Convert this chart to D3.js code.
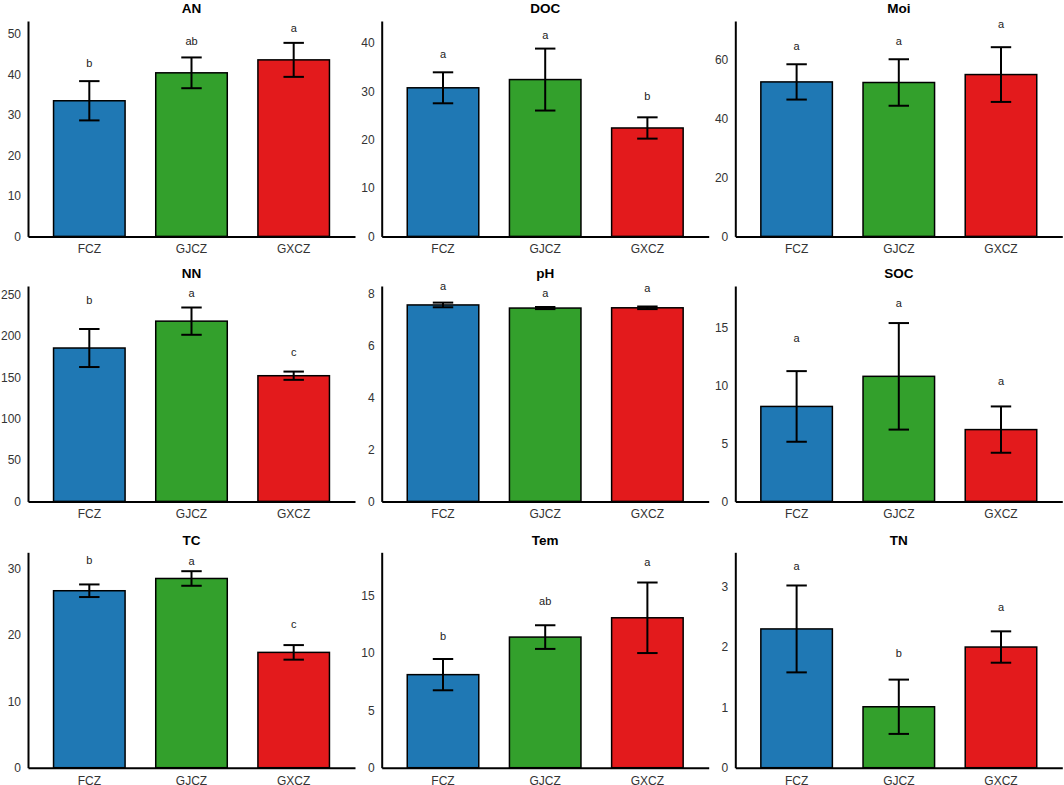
<!DOCTYPE html>
<html lang="en">
<head>
    <meta charset="UTF-8">
    <title>Soil properties by site</title>
    <script src="https://d3js.org/d3.v7.min.js"></script>
    <style>
        body { margin: 0; background: #fff; }
        text { font-family: "Liberation Sans", Arial, sans-serif; }
    </style>
</head>
<body>

<script>
// sites and variables
const groups = ["FCZ", "GJCZ", "GXCZ"];
const variables = ["AN", "DOC", "Moi", "NN", "pH", "SOC", "TC", "Tem", "TN"];

// bar heights (means) per variable, in site order
const means = [
    [33.5, 40.4, 43.6],
    [30.7, 32.4, 22.4],
    [52.5, 52.3, 55.0],
    [185.5, 218, 152],
    [7.57, 7.45, 7.46],
    [8.2, 10.8, 6.2],
    [26.7, 28.55, 17.4],
    [8.1, 11.37, 13.05],
    [2.3, 1.01, 2.0]
];

// half length of the error bars
const errors = [
    [4.85, 3.8, 4.2],
    [3.2, 6.4, 2.2],
    [6.0, 7.9, 9.3],
    [23, 16.5, 5],
    [0.09, 0.04, 0.05],
    [3.05, 4.6, 2.0],
    [0.95, 1.1, 1.1],
    [1.36, 1.03, 3.07],
    [0.72, 0.45, 0.26]
];

// significance letters and the value they sit at
const letters = [
    ["b", "ab", "a"],
    ["a", "a", "b"],
    ["a", "a", "a"],
    ["b", "a", "c"],
    ["a", "a", "a"],
    ["a", "a", "a"],
    ["b", "a", "c"],
    ["b", "ab", "a"],
    ["a", "b", "a"]
];
const letterY = [
    [42.8, 48.1, 51.4],
    [37.6, 41.5, 28.9],
    [64.7, 66.2, 72.1],
    [243, 251, 180.6],
    [8.29, 8.03, 8.19],
    [14.05, 17.1, 10.39],
    [31.27, 31.18, 21.56],
    [11.4, 14.5, 17.84],
    [3.33, 1.89, 2.66]
];

// y axis top and tick labels
const yMax = [53.2, 44.5, 73.2, 260.5, 8.3, 18.6, 32.5, 18.75, 3.57];
const yTicks = [
    [0, 10, 20, 30, 40, 50],
    [0, 10, 20, 30, 40],
    [0, 20, 40, 60],
    [0, 50, 100, 150, 200, 250],
    [0, 2, 4, 6, 8],
    [0, 5, 10, 15],
    [0, 10, 20, 30],
    [0, 5, 10, 15],
    [0, 1, 2, 3]
];

const colors = ["#1f78b4", "#33a02c", "#e31a1c"];

const width = 1064;
const height = 785;
const colLeft = [28, 381.7, 735.3];
const rowTop = [21, 286, 552.3];
const panelW = 327;
const panelH = 215.4;

const svg = d3.select("body").append("svg")
    .attr("width", width)
    .attr("height", height);

variables.forEach((name, i) => {
    const col = i % 3;
    const row = Math.floor(i / 3);

    const g = svg.append("g")
        .attr("transform", `translate(${colLeft[col]},${rowTop[row]})`);

    const x = d3.scaleBand()
        .domain(groups)
        .range([0, panelW])
        .paddingInner(0.3)
        .paddingOuter(0.25);

    const y = d3.scaleLinear()
        .domain([0, yMax[i]])
        .range([panelH, 0]);

    const capW = x.step() * 0.2;

    const rows = groups.map((grp, j) => ({
        grp: grp,
        mean: means[i][j],
        err: errors[i][j],
        letter: letters[i][j],
        ly: letterY[i][j],
        color: colors[j]
    }));

    // bars
    g.selectAll("rect.bar")
        .data(rows)
        .enter().append("rect")
        .attr("class", "bar")
        .attr("x", d => x(d.grp))
        .attr("width", x.bandwidth())
        .attr("y", d => y(d.mean))
        .attr("height", d => panelH - y(d.mean))
        .attr("fill", d => d.color)
        .attr("stroke", "#000")
        .attr("stroke-width", 1.5);

    // error bars
    const eb = g.selectAll("g.err")
        .data(rows)
        .enter().append("g")
        .attr("class", "err")
        .attr("stroke", "#000")
        .attr("stroke-width", 2)
        .attr("fill", "none");

    eb.append("line")
        .attr("x1", d => x(d.grp) + x.bandwidth() / 2)
        .attr("x2", d => x(d.grp) + x.bandwidth() / 2)
        .attr("y1", d => y(d.mean + d.err))
        .attr("y2", d => y(d.mean - d.err));
    eb.append("line")
        .attr("x1", d => x(d.grp) + x.bandwidth() / 2 - capW / 2)
        .attr("x2", d => x(d.grp) + x.bandwidth() / 2 + capW / 2)
        .attr("y1", d => y(d.mean + d.err))
        .attr("y2", d => y(d.mean + d.err));
    eb.append("line")
        .attr("x1", d => x(d.grp) + x.bandwidth() / 2 - capW / 2)
        .attr("x2", d => x(d.grp) + x.bandwidth() / 2 + capW / 2)
        .attr("y1", d => y(d.mean - d.err))
        .attr("y2", d => y(d.mean - d.err));

    // letters
    g.selectAll("text.letter")
        .data(rows)
        .enter().append("text")
        .attr("class", "letter")
        .attr("x", d => x(d.grp) + x.bandwidth() / 2)
        .attr("y", d => y(d.ly))
        .attr("dy", "0.32em")
        .attr("text-anchor", "middle")
        .attr("font-size", 11)
        .attr("fill", "#222")
        .text(d => d.letter);

    // axes
    const yAxis = g.append("g")
        .call(d3.axisLeft(y).tickValues(yTicks[i]).tickFormat(d3.format("~g"))
            .tickSize(0).tickPadding(7));
    const xAxis = g.append("g")
        .attr("transform", `translate(0,${panelH})`)
        .call(d3.axisBottom(x).tickSize(0).tickPadding(8.5));

    [yAxis, xAxis].forEach(a => {
        a.select(".domain").attr("stroke", "#000").attr("stroke-width", 2);
        a.selectAll("text")
            .attr("font-size", 12)
            .attr("fill", "#333")
            .style("font-family", "'Liberation Sans', Arial, sans-serif");
    });

    // title
    g.append("text")
        .attr("x", panelW / 2)
        .attr("y", -12.5)
        .attr("dy", "0.36em")
        .attr("text-anchor", "middle")
        .attr("font-size", 13.5)
        .attr("font-weight", "bold")
        .attr("fill", "#000")
        .text(name);
});
</script>

</body>
</html>
